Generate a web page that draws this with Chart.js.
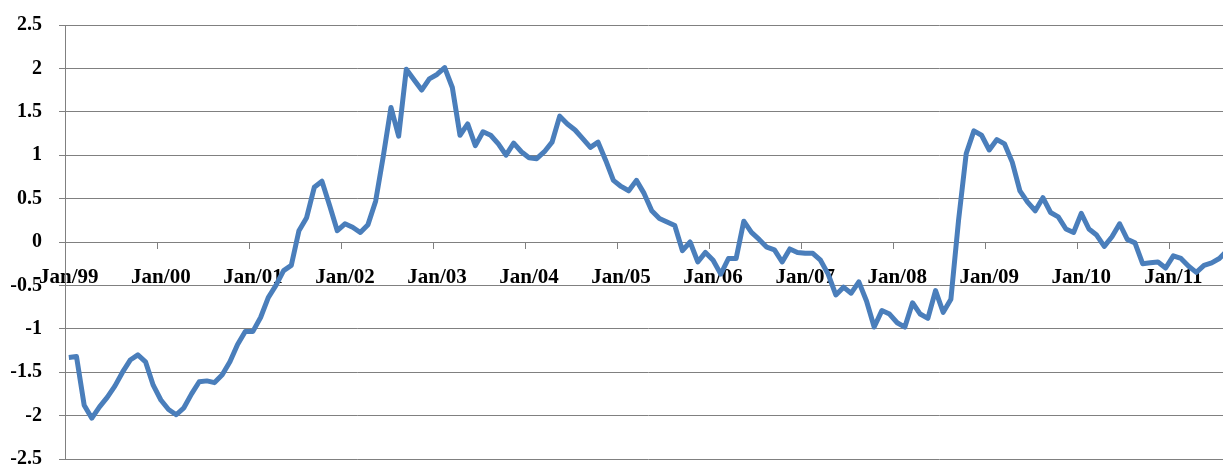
<!DOCTYPE html>
<html>
<head>
<meta charset="utf-8">
<script src="https://cdn.jsdelivr.net/npm/chart.js@4"></script>
<style>
  html, body { margin: 0; padding: 0; background: #fff; overflow: hidden; width: 1223px; height: 466px; }
  #wrap { width: 1244px; height: 492px; margin-top: -4px; }
</style>
</head>
<body>
<div id="wrap"><canvas id="chart" width="1244" height="492"></canvas></div>
<script>
// years shown on the axis, one Jan tick per year
const yearLabels = ['Jan/99', 'Jan/00', 'Jan/01', 'Jan/02', 'Jan/03', 'Jan/04', 'Jan/05',
  'Jan/06', 'Jan/07', 'Jan/08', 'Jan/09', 'Jan/10', 'Jan/11'];
const monthNames = ['Jan', 'Feb', 'Mar', 'Apr', 'May', 'Jun', 'Jul', 'Aug', 'Sep', 'Oct', 'Nov', 'Dec'];
const yearSuffix = ['99', '00', '01', '02', '03', '04', '05', '06', '07', '08', '09', '10', '11'];

// monthly values, Jan/99 .. Aug/11
const values = [
  -1.33, -1.32, -1.88, -2.03, -1.90, -1.79, -1.66, -1.50, -1.36, -1.30, -1.38, -1.65,
  -1.82, -1.93, -1.99, -1.91, -1.75, -1.61, -1.60, -1.62, -1.53, -1.38, -1.18, -1.03,
  -1.03, -0.87, -0.64, -0.50, -0.33, -0.27, 0.13, 0.28, 0.63, 0.70, 0.42, 0.13,
  0.21, 0.17, 0.11, 0.20, 0.47, 0.99, 1.55, 1.22, 1.99, 1.87, 1.75, 1.88,
  1.93, 2.01, 1.78, 1.23, 1.36, 1.11, 1.27, 1.23, 1.13, 1.00, 1.14, 1.04,
  0.97, 0.96, 1.04, 1.15, 1.45, 1.36, 1.29, 1.19, 1.09, 1.15, 0.94, 0.71,
  0.64, 0.59, 0.71, 0.56, 0.36, 0.27, 0.23, 0.19, -0.10, 0.00, -0.23, -0.12,
  -0.21, -0.37, -0.19, -0.19, 0.24, 0.11, 0.03, -0.06, -0.09, -0.23, -0.08, -0.12,
  -0.13, -0.13, -0.21, -0.37, -0.61, -0.52, -0.59, -0.46, -0.68, -0.98, -0.79, -0.83,
  -0.93, -0.98, -0.70, -0.83, -0.88, -0.56, -0.81, -0.66, 0.25, 1.02, 1.28, 1.23,
  1.06, 1.18, 1.13, 0.92, 0.59, 0.46, 0.36, 0.51, 0.34, 0.29, 0.15, 0.11,
  0.33, 0.15, 0.08, -0.05, 0.06, 0.21, 0.03, -0.01, -0.25, -0.24, -0.23, -0.30,
  -0.16, -0.19, -0.28, -0.35, -0.27, -0.24, -0.19, -0.10
];

const months = values.map((v, i) => monthNames[i % 12] + '/' + yearSuffix[Math.floor(i / 12)]);

const gridGray = '#808080';
const axisFont = { family: '"Liberation Serif", "Times New Roman", serif', weight: 'bold' };

new Chart(document.getElementById('chart'), {
  type: 'line',
  data: {
    labels: months,
    datasets: [{
      data: values,
      borderColor: '#4a7ebb',
      borderWidth: 5,
      pointRadius: 0,
      tension: 0,
      borderJoinStyle: 'round',
      fill: false,
    }],
  },
  options: {
    responsive: false,
    animation: false,
    devicePixelRatio: 1,
    layout: { padding: { left: 10, top: 0, right: 0, bottom: 0 } },
    plugins: { legend: { display: false }, tooltip: { enabled: false } },
    scales: {
      x: {
        type: 'category',
        position: { y: 0 },
        offset: true,
        grid: {
          offset: true,
          drawOnChartArea: false,
          drawTicks: true,
          tickLength: 6,
          tickColor: ctx => (ctx.index % 12 === 0 && ctx.index > 0) ? gridGray : 'rgba(0,0,0,0)',
        },
        border: { display: true, color: gridGray, width: 1 },
        ticks: {
          autoSkip: false,
          maxRotation: 0,
          minRotation: 0,
          padding: 17,
          color: '#000',
          font: { ...axisFont, size: 21 },
          callback: (val, idx) => idx % 12 === 0 ? yearLabels[idx / 12] : '',
        },
      },
      y: {
        min: -2.5,
        max: 2.5,
        afterFit: scale => { scale.width = 55; },
        grid: { color: gridGray, lineWidth: 1, tickLength: 6 },
        border: { display: true, color: gridGray, width: 1 },
        ticks: {
          stepSize: 0.5,
          padding: 17,
          color: '#000',
          font: { ...axisFont, size: 20 },
          callback: v => String(Math.round(v * 10) / 10),
        },
      },
    },
  },
});
</script>
</body>
</html>
